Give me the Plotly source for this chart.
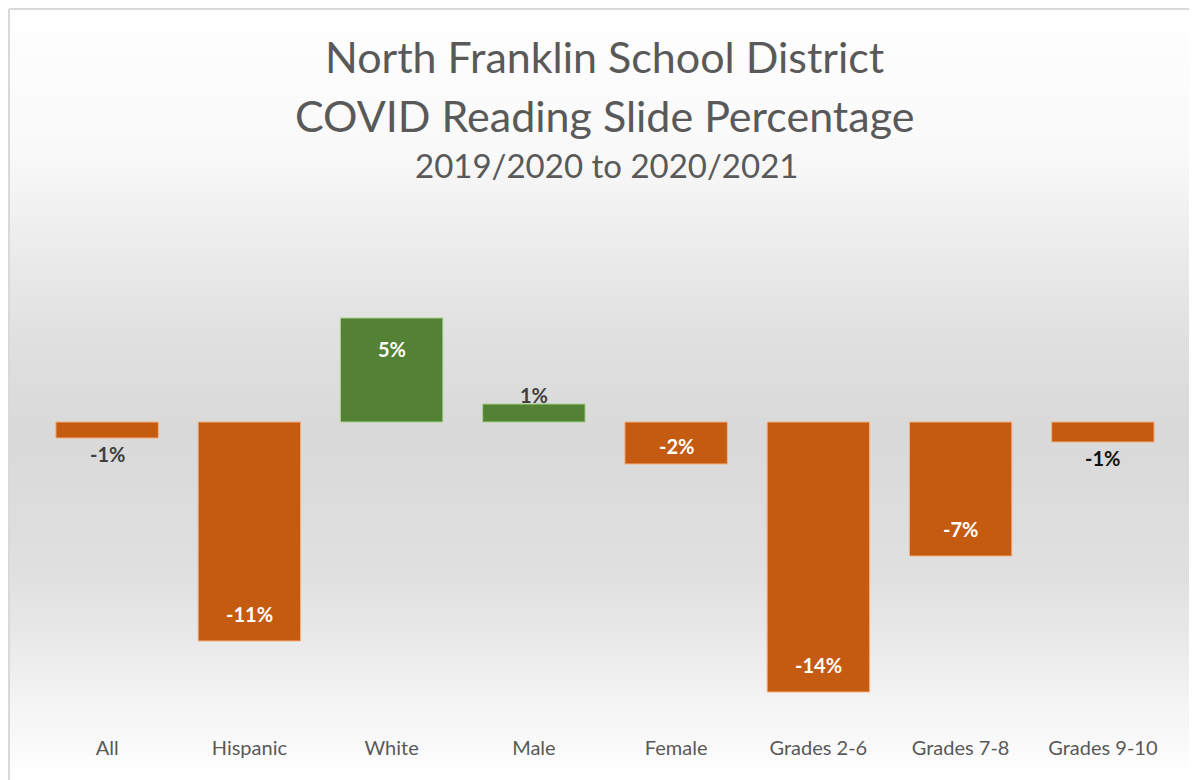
import plotly.graph_objects as go

categories = ["All", "Hispanic", "White", "Male", "Female", "Grades 2-6", "Grades 7-8", "Grades 9-10"]
values = [-0.8, -10.95, 5.2, 0.9, -2.1, -13.5, -6.7, -1.0]
labels = ["-1%", "-11%", "5%", "1%", "-2%", "-14%", "-7%", "-1%"]

ORANGE = "#C55A11"
GREEN = "#538135"
colors = [GREEN if v > 0 else ORANGE for v in values]
edges = ["#A9D18E" if v > 0 else "#F4B183" for v in values]
outside_colors = ["#404040", "#404040", "#404040", "#404040", "#404040", "#404040", "#404040", "#111111"]

OFF = 8  # page body margin
W, H = 1197 - OFF, 780 - OFF
L, R, T, B = 28, 23, 254, 46
PW, PH = W - L - R, H - T - B

def px_x(x):
    return (x - OFF - L) / PW

def px_y(y):
    return (H - B - (y - OFF)) / PH

fig = go.Figure()
fig.add_trace(go.Bar(
    x=categories, y=values,
    marker=dict(color=colors, line=dict(color=edges, width=1)),
    hoverinfo="skip",
))

# gradient background as horizontal strips
stops = [(0, (255, 255, 255)), (150, (249, 249, 249)), (330, (225, 225, 225)),
         (430, (217, 217, 217)), (580, (224, 224, 224)), (700, (243, 243, 243)), (780, (255, 255, 255))]

def col_at(y):
    for (y0, c0), (y1, c1) in zip(stops[:-1], stops[1:]):
        if y0 <= y <= y1:
            t = (y - y0) / (y1 - y0)
            return "rgb(%d,%d,%d)" % tuple(round(a + (b - a) * t) for a, b in zip(c0, c1))
    return "rgb(255,255,255)"

shapes = []
step = 6
for y in range(0, 780 + step, step):
    shapes.append(dict(type="rect", xref="paper", yref="paper", layer="below",
                       x0=px_x(0), x1=px_x(1200), y0=px_y(y + step + 0.5), y1=px_y(y),
                       fillcolor=col_at(y + step / 2), line=dict(width=0)))
shapes.append(dict(type="line", xref="paper", yref="paper", layer="above",
                   x0=px_x(9), x1=px_x(1200), y0=px_y(9), y1=px_y(9),
                   line=dict(color="#D9D9D9", width=2)))
shapes.append(dict(type="line", xref="paper", yref="paper", layer="above",
                   x0=px_x(9), x1=px_x(9), y0=px_y(9), y1=px_y(800),
                   line=dict(color="#D9D9D9", width=2)))

annotations = [
    dict(text="North Franklin School District", x=px_x(604), y=px_y(57), xref="paper", yref="paper",
         showarrow=False, font=dict(family="Lato", size=43, color="#595959"), xanchor="center", yanchor="middle"),
    dict(text="COVID Reading Slide Percentage", x=px_x(604), y=px_y(116), xref="paper", yref="paper",
         showarrow=False, font=dict(family="Lato", size=43, color="#595959"), xanchor="center", yanchor="middle"),
    dict(text="2019/2020 to 2020/2021", x=px_x(606), y=px_y(165), xref="paper", yref="paper",
         showarrow=False, font=dict(family="Lato", size=33, color="#595959"), xanchor="center", yanchor="middle"),
]

# data labels
for cat, v, lab, oc in zip(categories, values, labels, outside_colors):
    if abs(v) < 1.5:
        annotations.append(dict(x=cat, y=v, text="<b>%s</b>" % lab, showarrow=False,
                                xref="x", yref="y", yanchor="middle",
                                yshift=(9 if v > 0 else -16),
                                font=dict(family="Lato", size=20, color=oc)))
    elif abs(v) < 3:
        annotations.append(dict(x=cat, y=v / 2, text="<b>%s</b>" % lab, showarrow=False,
                                xref="x", yref="y", yanchor="middle", yshift=-3,
                                font=dict(family="Lato", size=20, color="white")))
    else:
        annotations.append(dict(x=cat, y=v, text="<b>%s</b>" % lab, showarrow=False,
                                xref="x", yref="y", yanchor="middle",
                                yshift=(-31 if v > 0 else 27),
                                font=dict(family="Lato", size=20, color="white")))

fig.update_layout(
    width=W, height=H,
    margin=dict(l=L, r=R, t=T, b=B),
    paper_bgcolor="white", plot_bgcolor="rgba(0,0,0,0)",
    bargap=0.28, showlegend=False,
    shapes=shapes, annotations=annotations,
    xaxis=dict(showgrid=False, showline=False, zeroline=False, ticks="",
               tickfont=dict(family="Lato", size=20, color="#595959"), fixedrange=True),
    yaxis=dict(range=[-15.6, 8.0], showgrid=False, showline=False, zeroline=False,
               showticklabels=False, fixedrange=True),
)

fig.write_html("out.html")
